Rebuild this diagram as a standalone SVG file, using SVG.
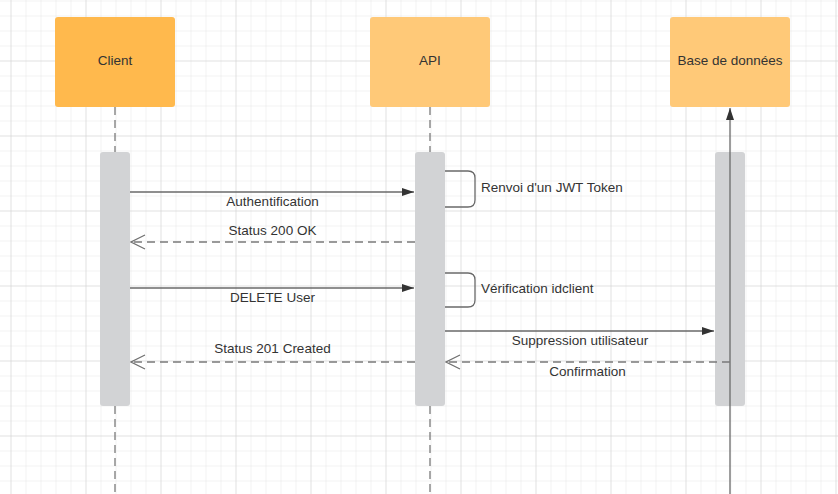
<svg xmlns="http://www.w3.org/2000/svg" width="838" height="494" viewBox="0 0 838 494">
<defs>
<pattern id="minor" x="10.5" y="0.5" width="15" height="15" patternUnits="userSpaceOnUse">
<path d="M0 0V15M0 0H15" fill="none" stroke="#e6e6e6" stroke-width="1"/>
</pattern>
<pattern id="major" x="10.5" y="60.5" width="75" height="75" patternUnits="userSpaceOnUse">
<path d="M0 0V75M0 0H75" fill="none" stroke="#d4d4d4" stroke-width="1"/>
</pattern>
<marker id="filled" viewBox="0 0 12 10" refX="12" refY="5" markerWidth="12" markerHeight="10" markerUnits="userSpaceOnUse" orient="auto">
<path d="M0 1 L12 5 L0 9 Z" fill="#333333"/>
</marker>
<marker id="open" viewBox="0 0 16 16" refX="15" refY="8" markerWidth="16" markerHeight="16" markerUnits="userSpaceOnUse" orient="auto">
<path d="M1 1 L15 8 L1 15" fill="none" stroke="#707070" stroke-width="1.2"/>
</marker>
</defs>
<style>
.box{stroke:none}
.client{fill:#ffb94d}
.light{fill:#ffc978}
.lbl{font-family:"Liberation Sans",Arial,sans-serif;font-size:13.5px;fill:#333333}
.mid{text-anchor:middle}
.life{stroke:#7a7a7a;stroke-width:1.3;stroke-dasharray:8 5;fill:none}
.bar{fill:#d2d3d5}
.msg{stroke:#6a6a6a;stroke-width:1.3;fill:none}
.ret{stroke:#7a7a7a;stroke-width:1.3;stroke-dasharray:8 5;fill:none}
</style>
<rect width="838" height="494" fill="#ffffff"/>
<rect width="838" height="494" fill="url(#minor)"/>
<rect width="838" height="494" fill="url(#major)"/>

<g id="lifelines">
<line class="life" x1="115" y1="107" x2="115" y2="152"/>
<line class="life" x1="115" y1="406" x2="115" y2="494"/>
<line class="life" x1="430" y1="107" x2="430" y2="152"/>
<line class="life" x1="430" y1="406" x2="430" y2="494"/>
</g>

<g id="client">
<rect class="box client" x="55" y="17" width="120" height="90" rx="3"/>
<text class="lbl mid" x="115" y="65">Client</text>
<rect class="bar" x="100" y="152" width="30" height="254" rx="3"/>
</g>

<g id="api">
<rect class="box light" x="370" y="17" width="120" height="90" rx="3"/>
<text class="lbl mid" x="430" y="65">API</text>
<rect class="bar" x="415" y="152" width="30" height="254" rx="3"/>
</g>

<g id="db">
<rect class="box light" x="670" y="17" width="120" height="90" rx="3"/>
<text class="lbl mid" x="730" y="65">Base de données</text>
<rect class="bar" x="715" y="152" width="30" height="254" rx="3"/>
</g>

<g id="connectors">
<line class="msg" x1="730" y1="494" x2="730" y2="108" marker-end="url(#filled)"/>
<line class="msg" x1="130" y1="192" x2="414" y2="192" marker-end="url(#filled)"/>
<text class="lbl mid" x="272.5" y="206">Authentification</text>
<line class="ret" x1="415" y1="242" x2="131" y2="242" marker-end="url(#open)"/>
<text class="lbl mid" x="272.5" y="235">Status 200 OK</text>
<path class="msg" d="M445 171 H468 Q475 171 475 178 V200 Q475 207 468 207 H445"/>
<text class="lbl" x="481" y="192">Renvoi d'un JWT Token</text>
<line class="msg" x1="130" y1="288" x2="414" y2="288" marker-end="url(#filled)"/>
<text class="lbl mid" x="272.5" y="302">DELETE User</text>
<path class="msg" d="M445 273 H468 Q475 273 475 280 V300 Q475 307 468 307 H445"/>
<text class="lbl" x="481" y="293">Vérification idclient</text>
<line class="msg" x1="445" y1="331" x2="714" y2="331" marker-end="url(#filled)"/>
<text class="lbl mid" x="580" y="345">Suppression utilisateur</text>
<line class="ret" x1="730" y1="362" x2="446" y2="362" marker-end="url(#open)"/>
<text class="lbl mid" x="587.5" y="376">Confirmation</text>
<line class="ret" x1="415" y1="362" x2="131" y2="362" marker-end="url(#open)"/>
<text class="lbl mid" x="272.5" y="353">Status 201 Created</text>
</g>
</svg>
